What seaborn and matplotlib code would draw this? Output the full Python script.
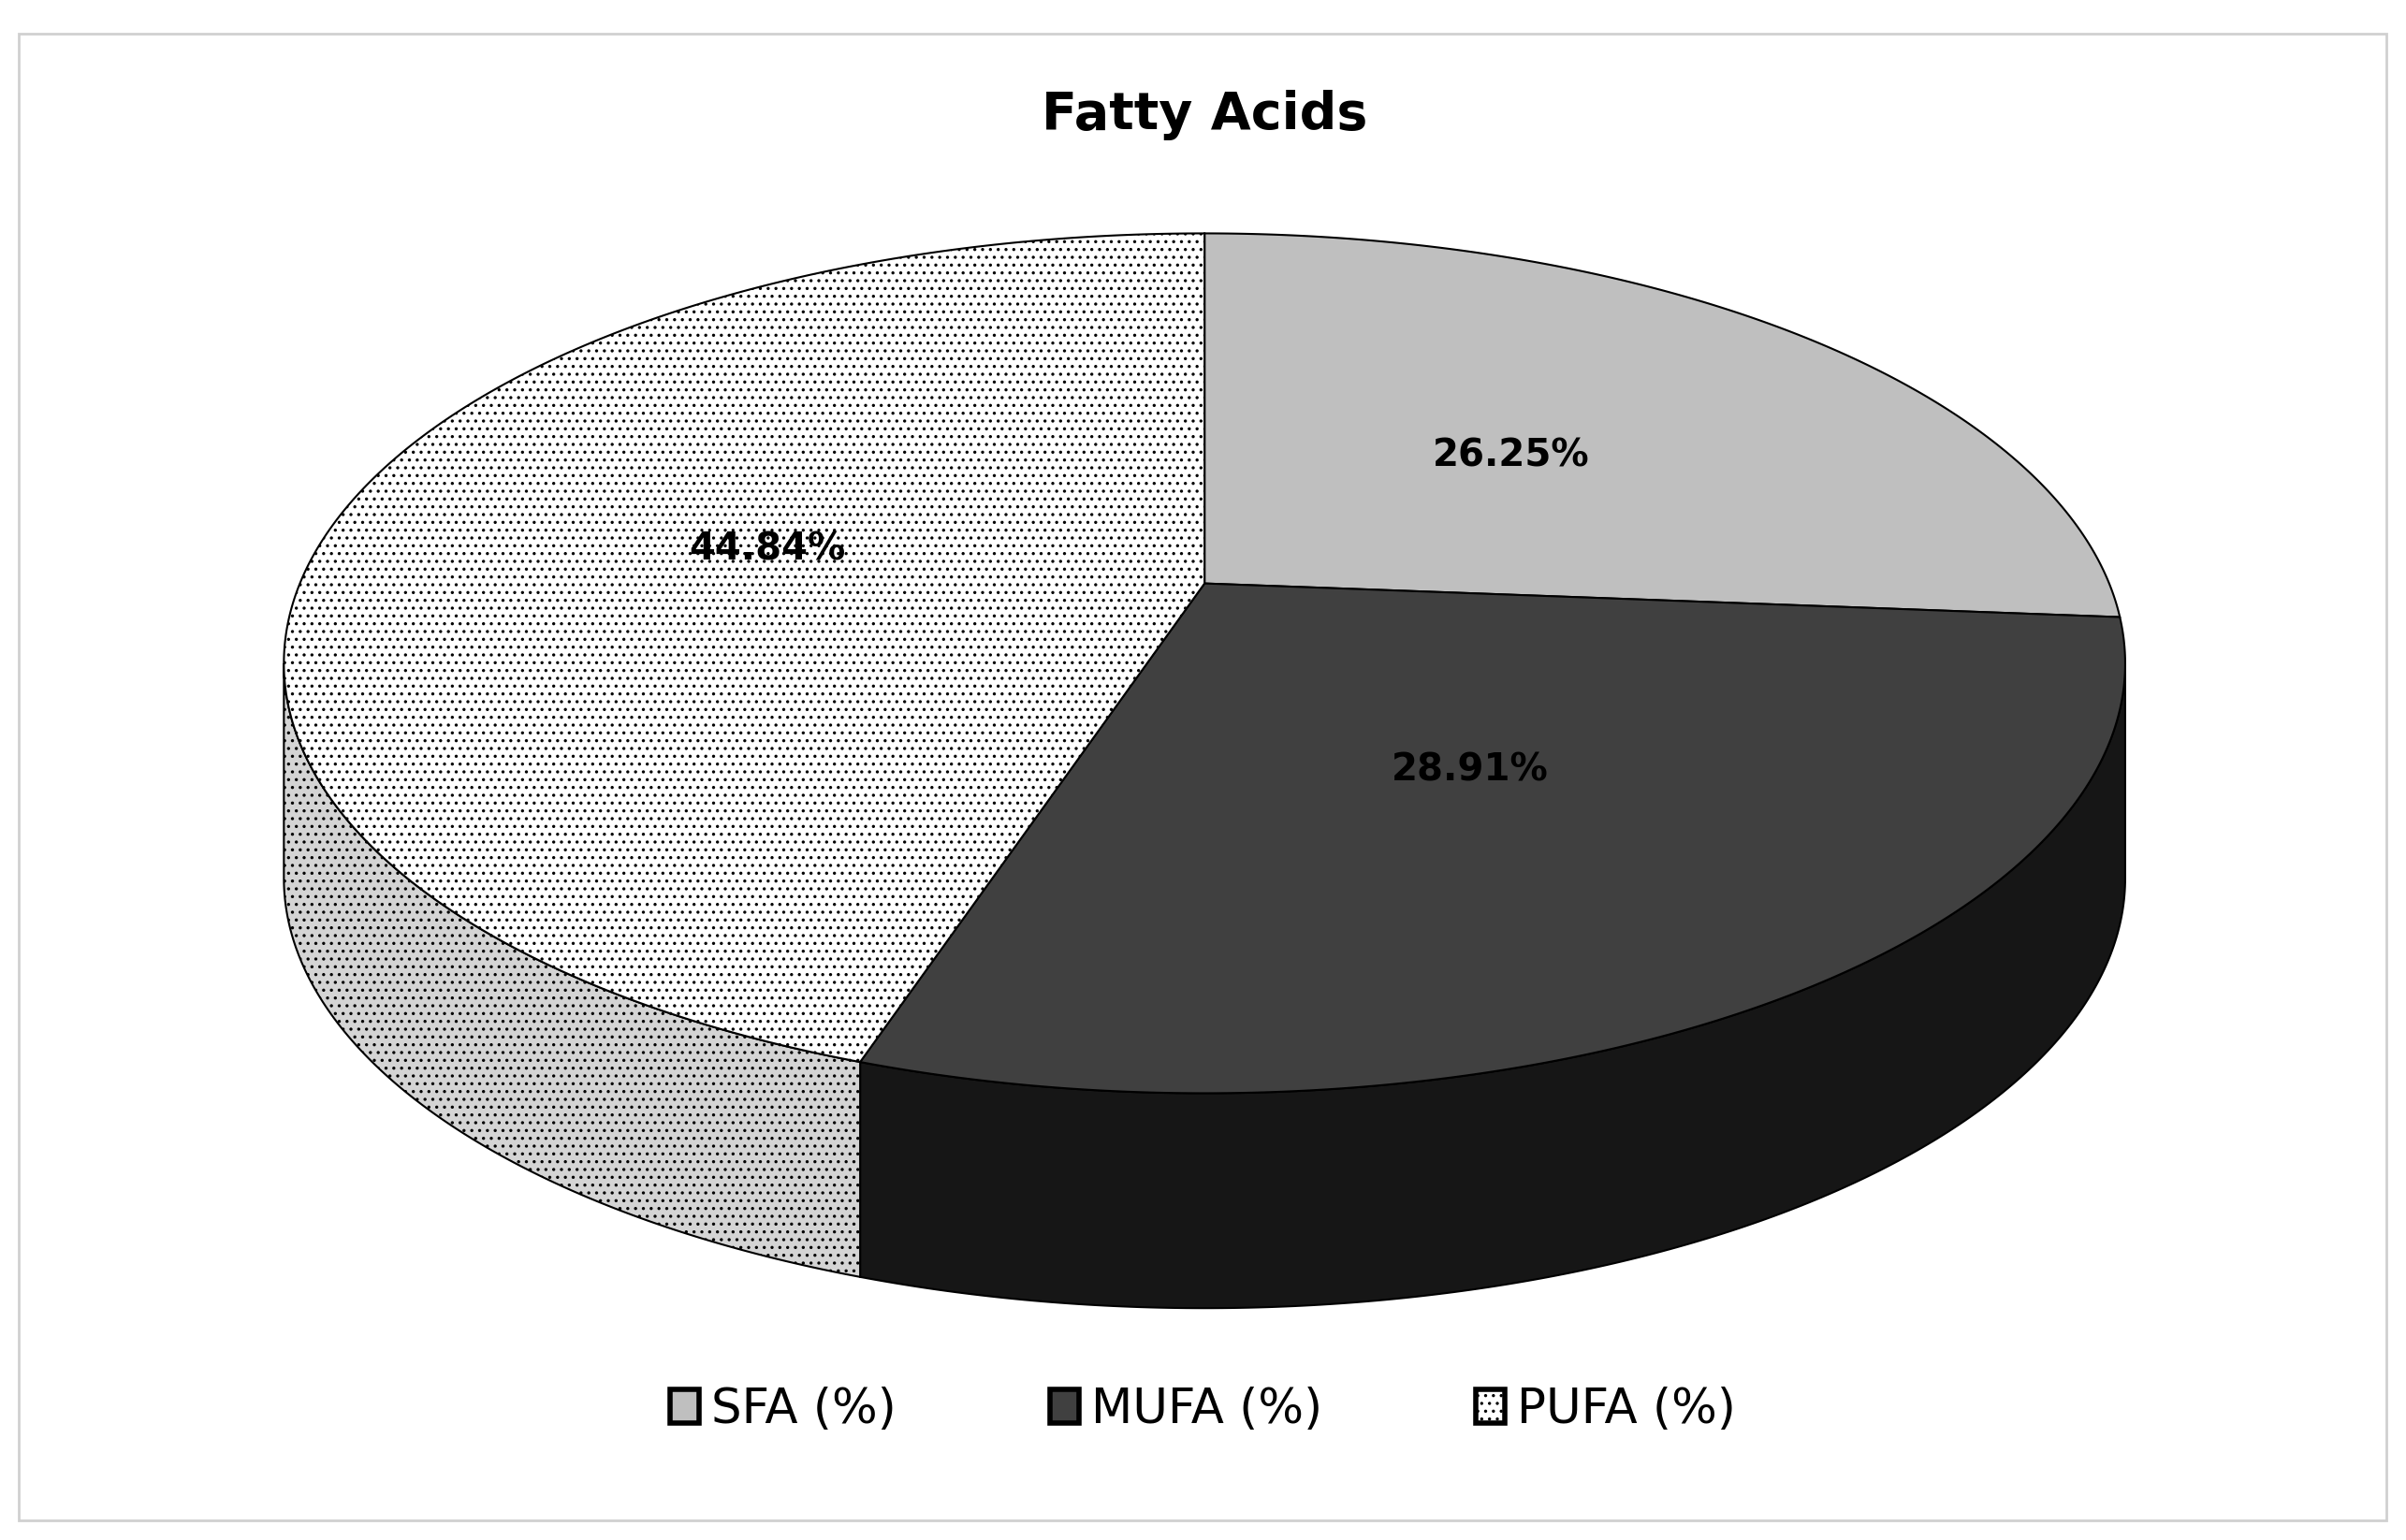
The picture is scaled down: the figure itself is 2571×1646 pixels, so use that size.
import numpy as np
import matplotlib
matplotlib.use("Agg")
import matplotlib.pyplot as plt
import seaborn as sns
from matplotlib.patches import Polygon, Rectangle, Patch

sns.set_theme(style="white")
plt.rcParams['font.family'] = ['DejaVu Sans']
plt.rcParams['text.color'] = 'black'
plt.rcParams['hatch.linewidth'] = 1.2

categories = ['SFA (%)', 'MUFA (%)', 'PUFA (%)']
values = [26.25, 28.91, 44.84]
top_colors = ['#bfbfbf', '#404040', '#ffffff']
side_colors = ['#8c8c8c', '#161616', '#d4d4d4']
hatches = [None, None, '..']

# geometry in reference-pixel units
cx, cy, rx, ry, depth = 785, 432, 600, 280, 140
apex = np.array([785.0, 380.0])

fig = plt.figure(figsize=(25.71, 16.46), dpi=100)
ax = fig.add_axes([0, 0, 1, 1])
ax.set_xlim(0, 1568)
ax.set_ylim(1003, 0)
ax.axis('off')

ax.add_patch(Rectangle((12, 22), 1543, 968, fill=False, ec='#d0d0d0', lw=2))

def pt(a, dy=0):
    return cx + rx * np.cos(np.radians(a)), cy - ry * np.sin(np.radians(a)) + dy

def rim_angle(theta):
    # cast a ray from the apex in the pie's direction, return parametric angle on the rim
    d = np.array([rx * np.cos(np.radians(theta)), -ry * np.sin(np.radians(theta))])
    p0 = apex - np.array([cx, cy])
    a = (d[0] / rx) ** 2 + (d[1] / ry) ** 2
    b = 2 * (p0[0] * d[0] / rx ** 2 + p0[1] * d[1] / ry ** 2)
    c = (p0[0] / rx) ** 2 + (p0[1] / ry) ** 2 - 1
    t = (-b + np.sqrt(b * b - 4 * a * c)) / (2 * a)
    q = p0 + t * d
    ang = np.degrees(np.arctan2(-q[1] / ry, q[0] / rx))
    # keep continuity with theta
    while ang > theta + 180:
        ang -= 360
    while ang < theta - 180:
        ang += 360
    return ang

# wedge angles: start at 90, go clockwise
bounds = [90]
for v in values:
    bounds.append(bounds[-1] - v / sum(values) * 360)
rim = [rim_angle(b) for b in bounds]
rim[-1] = rim[0] - 360

# sides (visible front half: parametric angle in -180..0)
for i in range(len(values)):
    a0, a1 = rim[i], rim[i + 1]
    lo, hi = max(a1, -180), min(a0, 0)
    if hi > lo:
        angs = np.linspace(hi, lo, 200)
        top = [pt(a) for a in angs]
        bot = [pt(a, depth) for a in angs[::-1]]
        ax.add_patch(Polygon(top + bot, closed=True, fc=side_colors[i],
                             ec='black', lw=1.5, hatch=hatches[i], zorder=2))

# top faces
for i in range(len(values)):
    angs = np.linspace(rim[i], rim[i + 1], 300)
    pts = [tuple(apex)] + [pt(a) for a in angs]
    ax.add_patch(Polygon(pts, closed=True, fc=top_colors[i], ec='black',
                         lw=1.5, hatch=hatches[i], zorder=3))

# labels
label_pos = [(985, 297), (958, 502), (500, 358)]
for (x, y), v in zip(label_pos, values):
    ax.text(x, y, f'{v:.2f}%', ha='center', va='center', fontsize=29,
            fontweight='bold', color='black', zorder=5)

ax.text(785, 75, 'Fatty Acids', ha='center', va='center', fontsize=40,
        fontweight='bold', color='black')

handles = [Patch(fc=c, ec='black', lw=4, hatch=h) for c, h in zip(top_colors, hatches)]
leg = ax.legend(handles, categories, ncol=3, loc='center', frameon=False,
                bbox_to_anchor=(0.5, 1 - 918 / 1003), fontsize=37,
                columnspacing=3.2, handlelength=0.6, handleheight=0.7,
                handletextpad=0.25)
for t in leg.get_texts():
    t.set_color('black')

fig.savefig('out.png', dpi=100)
